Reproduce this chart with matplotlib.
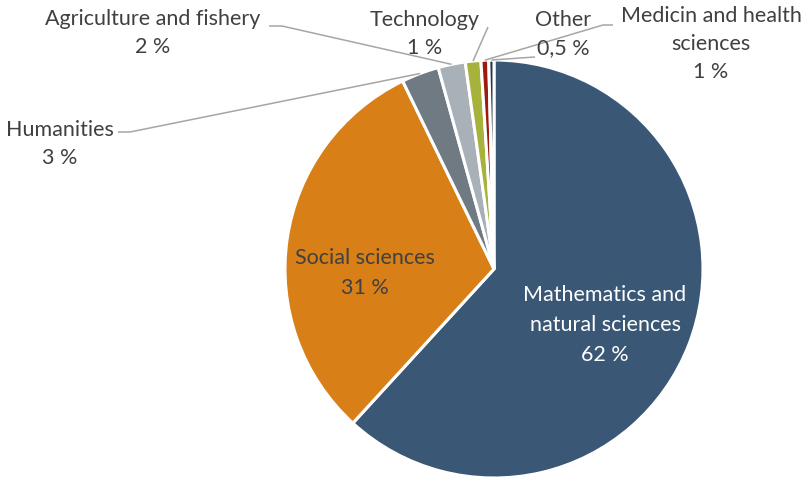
import numpy as np
import matplotlib
matplotlib.use("Agg")
import matplotlib.pyplot as plt

# Share of grants by field (percent), clockwise from 12 o'clock
fields = ["Mathematics and\nnatural sciences", "Social sciences", "Humanities",
          "Agriculture and fishery", "Technology", "Medicin and health\nsciences", "Other"]
shares = [61.8, 31.0, 2.9, 2.1, 1.2, 0.6, 0.4]
share_labels = ["62 %", "31 %", "3 %", "2 %", "1 %", "1 %", "0,5 %"]
colors = ["#3a5775", "#d87f17", "#6f7a82", "#a9b1b8", "#a5b23c", "#9b1b0e", "#1f3550"]

W, H = 808, 480
plt.rcParams['font.family'] = ['Lato', 'DejaVu Sans']

fig = plt.figure(figsize=(W / 100, H / 100), dpi=100)
ax = fig.add_axes([0, 0, 1, 1])

# pie in pixel units (y up)
cx, cy, r = 494, H - 269, 209
wedges, _ = ax.pie(shares, colors=colors, startangle=90, counterclock=False,
                   center=(cx, cy), radius=r,
                   wedgeprops=dict(edgecolor="white", linewidth=2.2))
ax.set_xlim(0, W)
ax.set_ylim(0, H)
ax.set_aspect("equal")
ax.axis("off")


def px(x, y):
    return x, H - y


txt = "#404040"
fs = 15.5

# labels inside the two big slices
ax.text(*px(605, 325), fields[0] + "\n" + share_labels[0], color="white",
        ha="center", va="center", fontsize=fs, linespacing=1.65)
ax.text(*px(365, 273), fields[1] + "\n" + share_labels[1], color=txt,
        ha="center", va="center", fontsize=fs, linespacing=1.65)

# outer labels: (text centre, elbow start, elbow end)
outer = {
    2: ((60, 144), (118, 132), (130, 132)),
    3: ((153, 33), (269, 26), (282, 26)),
    4: ((425, 34), (488, 27), (488, 27)),
    5: ((711, 44), (613, 25), (603, 25)),
    6: ((563, 34), (535, 57), (535, 57)),
}

cum = np.cumsum([0] + shares)
total = cum[-1]
for i, (pos, p1, p2) in outer.items():
    ax.text(*px(*pos), fields[i] + "\n" + share_labels[i], color=txt,
            ha="center", va="center", fontsize=fs, linespacing=1.5)
    # point on the wedge edge
    frac = (cum[i] + shares[i] / 2) / total
    ang = np.deg2rad(90 - 360 * frac)
    ex, ey = cx + r * np.cos(ang), cy + r * np.sin(ang)
    xs = [p1[0], p2[0], ex]
    ys = [H - p1[1], H - p2[1], ey]
    ax.plot(xs, ys, color="#a6a6a6", lw=1.1, solid_capstyle="butt")

fig.savefig("out.png", dpi=100)
